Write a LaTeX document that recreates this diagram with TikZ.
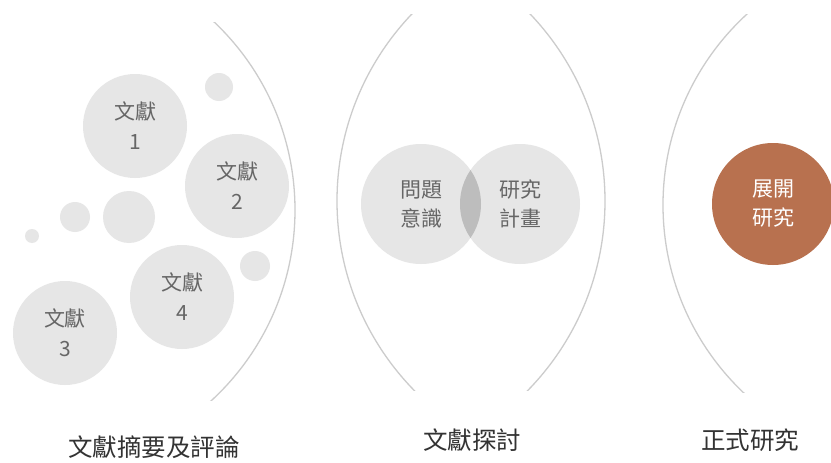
\documentclass[tikz,border=0pt]{standalone}
\usepackage{fontspec}
\setmainfont{Noto Sans CJK TC}
\begin{document}
\begin{tikzpicture}[x=1pt,y=-1pt,
  lit/.style={circle,fill=litgray,draw=none,inner sep=0pt,minimum size=104pt,align=center,text=txtgray,font=\fontsize{21}{30}\selectfont},
  dot/.style={circle,fill=litgray,draw=none,inner sep=0pt},
  venn/.style={circle,fill=litgray,draw=none,inner sep=0pt,minimum size=120pt},
  vtxt/.style={align=center,text=txtgray,font=\fontsize{21}{29}\selectfont},
  lab/.style={text=labgray,font=\fontsize{24.5}{28}\selectfont},
  bound/.style={draw=arcgray,line width=1.3pt}]
\definecolor{litgray}{HTML}{E6E6E6}
\definecolor{midgray}{HTML}{BDBDBD}
\definecolor{txtgray}{HTML}{666666}
\definecolor{labgray}{HTML}{333333}
\definecolor{arcgray}{HTML}{CCCCCC}
\definecolor{brown}{HTML}{B8714F}
\useasboundingbox[fill=white] (0,0) rectangle (831,463);
% boundary arcs
\begin{scope}
\clip (150,22) rectangle (320,400);
\draw[bound] (36,210) circle (259);
\end{scope}
\begin{scope}
\clip (320,14) rectangle (470,390);
\draw[bound] (608,201) circle (271);
\end{scope}
\begin{scope}
\clip (470,14) rectangle (640,390);
\draw[bound] (334,201) circle (271);
\end{scope}
\begin{scope}
\clip (640,14) rectangle (831,392);
\draw[bound] (922,205) circle (259);
\end{scope}
% left group
\node[dot,minimum size=28pt] (d1) at (219,87) {};
\node[dot,minimum size=52pt] (d2) at (129,217) {};
\node[dot,minimum size=30pt] (d3) at (75,217) {};
\node[dot,minimum size=14pt] (d4) at (32,236) {};
\node[dot,minimum size=30pt] (d5) at (255,266) {};
\node[lit] (w1) at (135,126) {文獻\\1};
\node[lit] (w2) at (237,186) {文獻\\2};
\node[lit] (w4) at (182,297) {文獻\\4};
\node[lit] (w3) at (65,333) {文獻\\3};
% venn
\node[venn] (p) at (421,204) {};
\node[venn] (q) at (520,204) {};
\begin{scope}
\clip (421,204) circle (60);
\fill[midgray] (520,204) circle (60);
\end{scope}
\node[vtxt] (pt) at (p.center) {問題\\意識};
\node[vtxt] (qt) at (q.center) {研究\\計畫};
% final
\node[circle,fill=brown,inner sep=0pt,minimum size=122pt,align=center,text=white,font=\fontsize{21}{29}\selectfont] (r) at (773,204) {展開\\研究};
% labels
\node[lab] (l1) at (154,447) {文獻摘要及評論};
\node[lab] (l2) at (472,440) {文獻探討};
\node[lab] (l3) at (750,440) {正式研究};
\end{tikzpicture}
\end{document}
